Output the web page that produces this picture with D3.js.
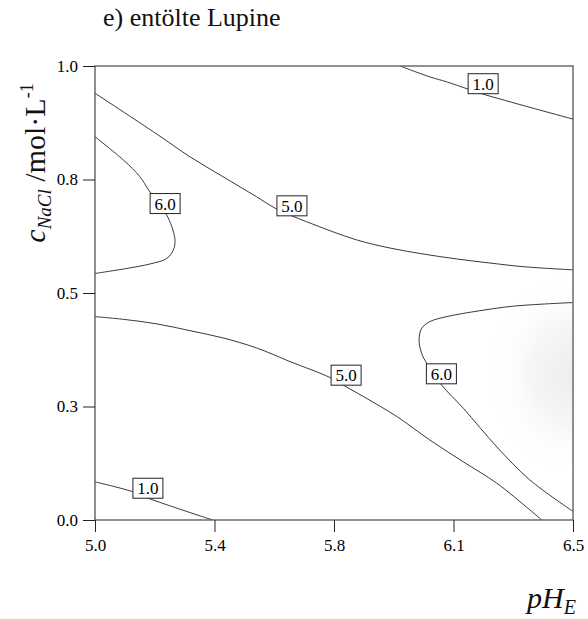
<!DOCTYPE html>
<html>
<head>
<meta charset="utf-8">
<script src="https://cdn.jsdelivr.net/npm/d3@7"></script>
<style>
  body { margin: 0; background: #fff; }
  svg, svg text { font-family: "Liberation Serif", "Times New Roman", Times, serif; }
</style>
</head>
<body>
<svg width="588" height="619" font-family="Liberation Serif, Times New Roman, serif"></svg>
<script>
// axis ticks (labels shown with one decimal, like the original)
let xTicks = [5.0, 5.375, 5.75, 6.125, 6.5];
let yTicks = [0, 0.25, 0.5, 0.75, 1.0];

// contour lines: [pH, c(NaCl)]
let c1Upper = [[5.957, 1.0], [6.051, 0.976], [6.104, 0.965], [6.171, 0.949], [6.218, 0.938], [6.5, 0.883]];
let c5Upper = [[5.0, 0.940], [5.194, 0.850], [5.298, 0.800], [5.402, 0.756], [5.507, 0.712], [5.570, 0.685],
    [5.664, 0.657], [5.821, 0.617], [5.926, 0.599], [6.029, 0.586], [6.135, 0.575], [6.240, 0.566],
    [6.343, 0.558], [6.5, 0.551]];
let c6Left = [[5.0, 0.844], [5.089, 0.793], [5.141, 0.756], [5.170, 0.725], [5.223, 0.674], [5.241, 0.646],
    [5.251, 0.617], [5.246, 0.595], [5.225, 0.576], [5.173, 0.564], [5.099, 0.554], [5.0, 0.543]];
let c5Lower = [[5.0, 0.448], [5.089, 0.442], [5.194, 0.432], [5.298, 0.417], [5.402, 0.401], [5.507, 0.379],
    [5.612, 0.349], [5.737, 0.314], [5.784, 0.295], [5.842, 0.272], [5.947, 0.228], [6.051, 0.176],
    [6.156, 0.128], [6.261, 0.081], [6.365, 0.022], [6.402, 0.0]];
let c6Right = [[6.5, 0.479], [6.313, 0.471], [6.208, 0.461], [6.104, 0.448], [6.051, 0.437], [6.025, 0.422],
    [6.017, 0.396], [6.025, 0.367], [6.041, 0.345], [6.088, 0.297], [6.156, 0.246], [6.261, 0.161],
    [6.365, 0.088], [6.5, 0.019]];
let c1Lower = [[5.0, 0.084], [5.120, 0.062], [5.167, 0.048], [5.369, 0.0]];

let contourLines = [c1Upper, c5Upper, c6Left, c5Lower, c6Right, c1Lower];

// contour labels
let labelTexts = ['1.0', '5.0', '6.0', '5.0', '6.0', '1.0'];
let labelPos = [[6.218, 0.961], [5.618, 0.692], [5.220, 0.697], [5.788, 0.319], [6.087, 0.322], [5.166, 0.070]];

const serif = 'Liberation Serif, Times New Roman, serif';

let svg = d3.select('svg'),
    margin = {top: 66, left: 95, right: 15, bottom: 99},
    width = +svg.attr('width') - margin.left - margin.right,
    height = +svg.attr('height') - margin.top - margin.bottom;

let x = d3.scaleLinear().domain([5.0, 6.5]).range([0, width]);
let y = d3.scaleLinear().domain([0, 1]).range([height, 0]);

let defs = svg.append('defs');
defs.append('clipPath').attr('id', 'plot-clip')
    .append('rect').attr('width', width).attr('height', height);

let grad = defs.append('radialGradient').attr('id', 'shade')
    .attr('cx', 0.5).attr('cy', 0.5).attr('r', 0.5);
grad.append('stop').attr('offset', '0%').attr('stop-color', '#ededed');
grad.append('stop').attr('offset', '50%').attr('stop-color', '#f6f6f6');
grad.append('stop').attr('offset', '100%').attr('stop-color', '#fff').attr('stop-opacity', 0);

// title
svg.append('text')
    .attr('x', 103).attr('y', 26)
    .attr('font-family', serif)
    .attr('font-size', 26)
    .attr('fill', '#111')
    .text('e) entölte Lupine');

let g = svg.append('g').attr('transform', `translate(${margin.left},${margin.top})`);

let plot = g.append('g').attr('clip-path', 'url(#plot-clip)');

// faint shading in the right part of the field
plot.append('ellipse')
    .attr('cx', x(6.5)).attr('cy', y(0.32))
    .attr('rx', 85).attr('ry', 100)
    .attr('fill', 'url(#shade)');

let line = d3.line()
    .x(d => x(d[0]))
    .y(d => y(d[1]))
    .curve(d3.curveCatmullRom.alpha(0.5));

plot.selectAll('path.contour')
    .data(contourLines)
    .enter().append('path')
    .attr('class', 'contour')
    .attr('d', line)
    .attr('fill', 'none')
    .attr('stroke', '#222')
    .attr('stroke-width', 0.9);

// frame
g.append('rect')
    .attr('width', width).attr('height', height)
    .attr('fill', 'none')
    .attr('stroke', '#555')
    .attr('stroke-width', 1.3);

let fmt = d3.format('.1f');

let yAxis = g.append('g')
    .call(d3.axisLeft(y).tickValues(yTicks).tickFormat(fmt).tickSize(12).tickPadding(5));
let xAxis = g.append('g')
    .attr('transform', `translate(0,${height})`)
    .call(d3.axisBottom(x).tickValues(xTicks).tickFormat(fmt).tickSize(12).tickPadding(7));

[xAxis, yAxis].forEach(a => {
    a.attr('font-family', serif).attr('font-size', 17);
    a.select('.domain').remove();
    a.selectAll('.tick line').attr('stroke', '#222');
    a.selectAll('.tick text').attr('fill', '#000');
});

// contour labels
let lab = g.selectAll('g.clabel')
    .data(labelTexts)
    .enter().append('g')
    .attr('class', 'clabel')
    .attr('transform', (d, i) => `translate(${x(labelPos[i][0])},${y(labelPos[i][1])})`);

lab.append('rect')
    .attr('x', -15).attr('y', -10)
    .attr('width', 30).attr('height', 20)
    .attr('fill', '#fff')
    .attr('stroke', '#222')
    .attr('stroke-width', 1);

lab.append('text')
    .attr('text-anchor', 'middle')
    .attr('dy', '0.36em')
    .attr('font-family', serif)
    .attr('font-size', 17)
    .attr('fill', '#000')
    .text(d => d);

// axis titles
let yt = svg.append('text')
    .attr('transform', 'translate(45,163) rotate(-90)')
    .attr('text-anchor', 'middle')
    .attr('font-family', serif)
    .attr('font-size', 30)
    .attr('fill', '#111');
yt.append('tspan').attr('font-style', 'italic').text('c');
yt.append('tspan').attr('font-style', 'italic').attr('font-size', 19).attr('dy', 6).text('NaCl');
yt.append('tspan').attr('dy', -6).text(' /mol·L');
yt.append('tspan').attr('font-size', 18).attr('dy', -12).text('-1');

let xt = svg.append('text')
    .attr('x', 527).attr('y', 608)
    .attr('font-family', serif)
    .attr('font-size', 30)
    .attr('font-style', 'italic')
    .attr('fill', '#111');
xt.append('tspan').text('pH');
xt.append('tspan').attr('font-size', 20).attr('dy', 6).text('E');
</script>
</body>
</html>
